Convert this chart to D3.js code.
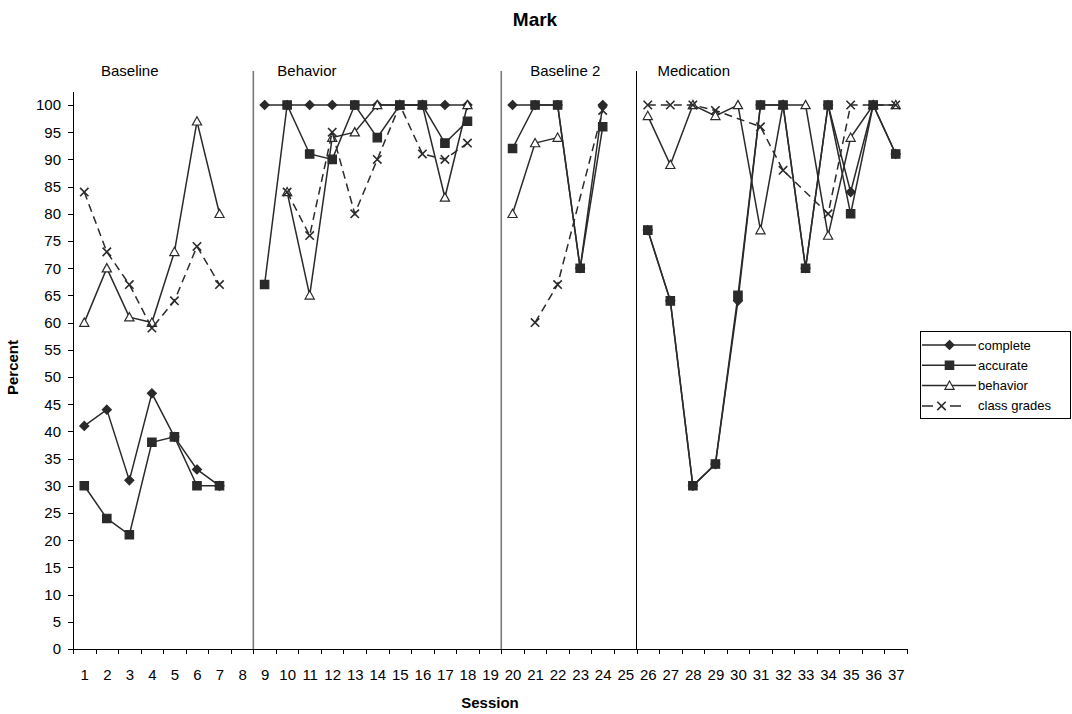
<!DOCTYPE html>
<html>
<head>
<meta charset="utf-8">
<script src="https://cdn.jsdelivr.net/npm/d3@7"></script>
<style>
  body { margin: 0; background: #fff; }
  svg { font-family: 'Liberation Sans', Arial, sans-serif; }
  .axis text { font-size: 15px; fill: #000; }
  .axis line, .axis path { stroke: #000; shape-rendering: crispEdges; }
</style>
</head>
<body>
<svg id="chart" width="1072" height="714"></svg>
<script>
// sessions 1..37, null = no value recorded
const sessions = d3.range(1, 38);
const phaseNames = ['Baseline', 'Behavior', 'Baseline 2', 'Medication'];
const phaseStarts = [1, 9, 20, 26];
const phaseEnds = [8, 19, 25, 37];

const complete = [41, 44, 31, 47, 39, 33, 30, null,
  100, 100, 100, 100, 100, 100, 100, 100, 100, 100, null,
  100, 100, 100, 70, 100, null,
  77, 64, 30, 34, 64, 100, 100, 70, 100, 84, 100, 91];
const accurate = [30, 24, 21, 38, 39, 30, 30, null,
  67, 100, 91, 90, 100, 94, 100, 100, 93, 97, null,
  92, 100, 100, 70, 96, null,
  77, 64, 30, 34, 65, 100, 100, 70, 100, 80, 100, 91];
const behavior = [60, 70, 61, 60, 73, 97, 80, null,
  null, 84, 65, 94, 95, 100, 100, 100, 83, 100, null,
  80, 93, 94, null, null, null,
  98, 89, 100, 98, 100, 77, 100, 100, 76, 94, 100, 100];
const classGrades = [84, 73, 67, 59, 64, 74, 67, null,
  null, 84, 76, 95, 80, 90, 100, 91, 90, 93, null,
  null, 60, 67, null, 99, null,
  100, 100, 100, 99, null, 96, 88, null, 80, 100, 100, 100];

const seriesNames = ['complete', 'accurate', 'behavior', 'class grades'];
const seriesValues = [complete, accurate, behavior, classGrades];
const yTicks = d3.range(0, 101, 5);

const LineColor = '#2a2a2a';
const MarkerShapes = ['diamond', 'square', 'triangle', 'cross'];
const Dashes = [null, null, null, '8,5'];
// behavior sits under accurate where they overlap
const DrawOrder = [0, 2, 1, 3];
const PhaseLineColors = ['#7a7a7a', '#7a7a7a', '#000'];
const PhaseLabelOffsets = [28, 24, 29, 21];

const plot = { left: 73, right: 907, top: 92, yTop: 105, bottom: 649 };

const svg = d3.select('#chart');

const x = d3.scaleLinear()
  .domain([0.5, 37.5])
  .range([plot.left, plot.right]);
const y = d3.scaleLinear()
  .domain([0, 100])
  .range([plot.bottom, plot.yTop]);

const markerPath = (shape, cx, cy) => {
  if (shape === 'diamond') {
    const r = 4.5;
    return `M${cx},${cy - r}L${cx + r},${cy}L${cx},${cy + r}L${cx - r},${cy}Z`;
  }
  if (shape === 'square') {
    const r = 4.2;
    return `M${cx - r},${cy - r}h${2 * r}v${2 * r}h${-2 * r}Z`;
  }
  if (shape === 'triangle') {
    const r = 4.6;
    return `M${cx},${cy - r}L${cx + r},${cy + r * 0.8}L${cx - r},${cy + r * 0.8}Z`;
  }
  const r = 4.2;
  return `M${cx - r},${cy - r}L${cx + r},${cy + r}M${cx - r},${cy + r}L${cx + r},${cy - r}`;
};

const styleMarker = (sel, shape) => sel
  .attr('fill', shape === 'triangle' ? '#fff' : shape === 'cross' ? 'none' : LineColor)
  .attr('stroke', LineColor)
  .attr('stroke-width', shape === 'cross' ? 1.6 : 1.2);

// title and axis titles
svg.append('text')
  .attr('x', 535).attr('y', 26)
  .attr('text-anchor', 'middle')
  .style('font-size', '19px').style('font-weight', 'bold')
  .text('Mark');

svg.append('text')
  .attr('transform', `translate(18,${(plot.top + plot.bottom) / 2 - 3}) rotate(-90)`)
  .attr('text-anchor', 'middle')
  .style('font-size', '15px').style('font-weight', 'bold')
  .text('Percent');

svg.append('text')
  .attr('x', 490).attr('y', 708)
  .attr('text-anchor', 'middle')
  .style('font-size', '15px').style('font-weight', 'bold')
  .text('Session');

// axes
svg.append('g')
  .classed('axis', true)
  .attr('transform', `translate(${plot.left},0)`)
  .call(d3.axisLeft(y).tickValues(yTicks).tickSize(5).tickPadding(7))
  .call(g => g.select('.domain').attr('d', `M0,${plot.top}V${plot.bottom}`));

svg.append('g')
  .classed('axis', true)
  .attr('transform', `translate(0,${plot.bottom})`)
  .call(d3.axisBottom(x)
    .tickValues(d3.range(0.5, 38, 1))
    .tickSize(5)
    .tickFormat(''));

svg.append('g')
  .classed('axis', true)
  .attr('transform', `translate(0,${plot.bottom})`)
  .call(d3.axisBottom(x).tickValues(sessions).tickSize(0).tickPadding(20)
    .tickFormat(d3.format('d')))
  .call(g => g.select('.domain').remove());

// phase change lines and labels
svg.append('g')
  .selectAll('line')
  .data(phaseStarts.slice(1))
  .enter().append('line')
    .attr('x1', d => x(d - 0.5)).attr('x2', d => x(d - 0.5))
    .attr('y1', 71).attr('y2', plot.bottom)
    .attr('stroke', (d, i) => PhaseLineColors[i])
    .attr('stroke-width', (d, i) => i < 2 ? 1.6 : 1);

svg.append('g')
  .selectAll('text')
  .data(phaseNames)
  .enter().append('text')
    .attr('x', (d, i) => x(phaseStarts[i] - 0.5) + PhaseLabelOffsets[i])
    .attr('y', 76)
    .style('font-size', '15px')
    .text(d => d);

// series: one line per phase, gaps inside a phase are bridged
const lineGen = d3.line()
  .x(p => x(p[0]))
  .y(p => y(p[1]));

const seriesGroup = svg.append('g');
DrawOrder.forEach(si => {
  const values = seriesValues[si];
  const g = seriesGroup.append('g').classed('series', true);
  phaseStarts.forEach((start, pi) => {
    const pts = d3.range(start, phaseEnds[pi] + 1)
      .filter(s => values[s - 1] != null)
      .map(s => [s, values[s - 1]]);
    g.append('path')
      .attr('d', lineGen(pts))
      .attr('fill', 'none')
      .attr('stroke', LineColor)
      .attr('stroke-width', 1.5)
      .attr('stroke-dasharray', Dashes[si]);
  });
  g.selectAll('path.marker')
    .data(sessions.filter(s => values[s - 1] != null))
    .enter().append('path')
      .classed('marker', true)
      .attr('d', s => markerPath(MarkerShapes[si], x(s), y(values[s - 1])))
      .call(styleMarker, MarkerShapes[si]);
});

// legend
const legend = svg.append('g').attr('transform', 'translate(920,331)');
legend.append('rect')
  .attr('width', 150).attr('height', 87)
  .attr('fill', '#fff').attr('stroke', '#000')
  .attr('shape-rendering', 'crispEdges');
const items = legend.selectAll('g.item')
  .data(seriesNames)
  .enter().append('g')
    .classed('item', true)
    .attr('transform', (d, i) => `translate(0,${14 + i * 20.3})`);
items.append('line')
  .attr('x1', 2).attr('x2', 56)
  .attr('stroke', LineColor).attr('stroke-width', 1.5)
  .attr('stroke-dasharray', (d, i) => i === 3 ? '11,17' : null);
items.append('path')
  .attr('d', (d, i) => markerPath(MarkerShapes[i], i === 3 ? 21.5 : 29.5, 0))
  .each(function(d, i) { d3.select(this).call(styleMarker, MarkerShapes[i]); });
items.append('text')
  .attr('x', 58).attr('dy', '0.35em')
  .style('font-size', '13px')
  .text(d => d);
</script>
</body>
</html>
